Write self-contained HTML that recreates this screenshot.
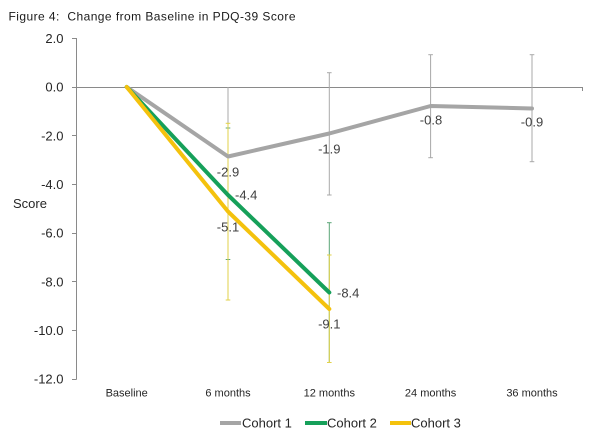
<!DOCTYPE html>
<html>
<head>
<meta charset="utf-8">
<style>
html,body{margin:0;padding:0;background:#fff;}
svg{display:block;}
text{font-family:"Liberation Sans",Arial,sans-serif;}
</style>
</head>
<body>
<svg width="600" height="442" viewBox="0 0 600 442" xmlns="http://www.w3.org/2000/svg">
<rect width="600" height="442" fill="#fff"/>
<!-- Title -->
<text x="8.5" y="20.7" font-size="12" fill="#1a1a1a" textLength="287" lengthAdjust="spacing" xml:space="preserve">Figure 4:  Change from Baseline in PDQ-39 Score</text>

<!-- Y axis -->
<g stroke="#8a8a8a" stroke-width="1">
<line x1="76.5" y1="38" x2="76.5" y2="379.5"/>
<line x1="72" y1="38.5" x2="76.5" y2="38.5"/>
<line x1="72" y1="87.5" x2="76.5" y2="87.5"/>
<line x1="72" y1="135.5" x2="76.5" y2="135.5"/>
<line x1="72" y1="184.5" x2="76.5" y2="184.5"/>
<line x1="72" y1="233.5" x2="76.5" y2="233.5"/>
<line x1="72" y1="281.5" x2="76.5" y2="281.5"/>
<line x1="72" y1="330.5" x2="76.5" y2="330.5"/>
<line x1="72" y1="379.5" x2="76.5" y2="379.5"/>
<!-- X axis at 0 -->
<line x1="76.5" y1="87.5" x2="583" y2="87.5"/>
<line x1="582.5" y1="87.5" x2="582.5" y2="91"/>
</g>

<!-- Y tick labels -->
<g font-size="13" fill="#262626" text-anchor="end">
<text x="63.5" y="43">2.0</text>
<text x="63.5" y="91.7">0.0</text>
<text x="63.5" y="140.3">-2.0</text>
<text x="63.5" y="189">-4.0</text>
<text x="63.5" y="237.7">-6.0</text>
<text x="63.5" y="286.3">-8.0</text>
<text x="63.5" y="335">-10.0</text>
<text x="63.5" y="383.7">-12.0</text>
</g>
<text x="13" y="207.8" font-size="13" fill="#262626">Score</text>

<!-- X labels -->
<g font-size="11" fill="#262626" text-anchor="middle">
<text x="126.7" y="396.6">Baseline</text>
<text x="228" y="396.6">6 months</text>
<text x="329.3" y="396.6">12 months</text>
<text x="430.6" y="396.6">24 months</text>
<text x="532" y="396.6">36 months</text>
</g>

<!-- Error bars gray -->
<g stroke="#a8a8a8" stroke-width="1" fill="none">
<line x1="228" y1="87" x2="228" y2="226"/>
<line x1="329.3" y1="72.7" x2="329.3" y2="195"/>
<line x1="327" y1="72.7" x2="331.6" y2="72.7"/>
<line x1="327" y1="195" x2="331.6" y2="195"/>
<line x1="430.6" y1="54.7" x2="430.6" y2="157.7"/>
<line x1="428.3" y1="54.7" x2="432.9" y2="54.7"/>
<line x1="428.3" y1="157.7" x2="432.9" y2="157.7"/>
<line x1="532" y1="54.7" x2="532" y2="161.7"/>
<line x1="529.7" y1="54.7" x2="534.3" y2="54.7"/>
<line x1="529.7" y1="161.7" x2="534.3" y2="161.7"/>
</g>
<!-- Error bars green -->
<g stroke="#5aa576" stroke-width="1" fill="none">
<line x1="228" y1="128" x2="228" y2="259.5"/>
<line x1="225.7" y1="128" x2="230.3" y2="128"/>
<line x1="225.7" y1="259.5" x2="230.3" y2="259.5"/>
<line x1="329.3" y1="222.7" x2="329.3" y2="362"/>
<line x1="327" y1="222.7" x2="331.6" y2="222.7"/>
</g>
<!-- Error bars yellow -->
<g stroke="#e2d24a" stroke-width="1" fill="none">
<line x1="228" y1="123.3" x2="228" y2="300"/>
<line x1="225.7" y1="123.3" x2="230.3" y2="123.3"/>
<line x1="225.7" y1="300" x2="230.3" y2="300"/>
<line x1="329.3" y1="255" x2="329.3" y2="362.5"/>
<line x1="327" y1="255" x2="331.6" y2="255"/>
<line x1="327" y1="362.5" x2="331.6" y2="362.5"/>
</g>

<!-- Series -->
<polyline points="126.7,87 228,156.5 329.3,133.5 430.6,106 532,108.5" fill="none" stroke="#a5a5a5" stroke-width="4" stroke-linejoin="round" stroke-linecap="round"/>
<polyline points="126.7,87 228,195 329.3,292.5" fill="none" stroke="#16a05a" stroke-width="4" stroke-linejoin="round" stroke-linecap="round"/>
<polyline points="126.7,87 228,211.5 329.3,309" fill="none" stroke="#f4c20d" stroke-width="4" stroke-linejoin="round" stroke-linecap="round"/>

<!-- Data labels -->
<g font-size="13" fill="#404040">
<text x="228" y="176.5" text-anchor="middle">-2.9</text>
<text x="235" y="199.7">-4.4</text>
<text x="228" y="231.5" text-anchor="middle">-5.1</text>
<text x="329.3" y="153.5" text-anchor="middle">-1.9</text>
<text x="431" y="124.5" text-anchor="middle">-0.8</text>
<text x="532" y="126.5" text-anchor="middle">-0.9</text>
<text x="337" y="297.5">-8.4</text>
<text x="329.3" y="328.5" text-anchor="middle">-9.1</text>
</g>

<!-- Legend -->
<line x1="220" y1="423" x2="241" y2="423" stroke="#a5a5a5" stroke-width="4"/>
<text x="242" y="427.5" font-size="13" fill="#262626">Cohort 1</text>
<line x1="305" y1="423" x2="327" y2="423" stroke="#16a05a" stroke-width="4"/>
<text x="327" y="427.5" font-size="13" fill="#262626">Cohort 2</text>
<line x1="390" y1="423" x2="411" y2="423" stroke="#f4c20d" stroke-width="4"/>
<text x="411" y="427.5" font-size="13" fill="#262626">Cohort 3</text>
</svg>
</body>
</html>
